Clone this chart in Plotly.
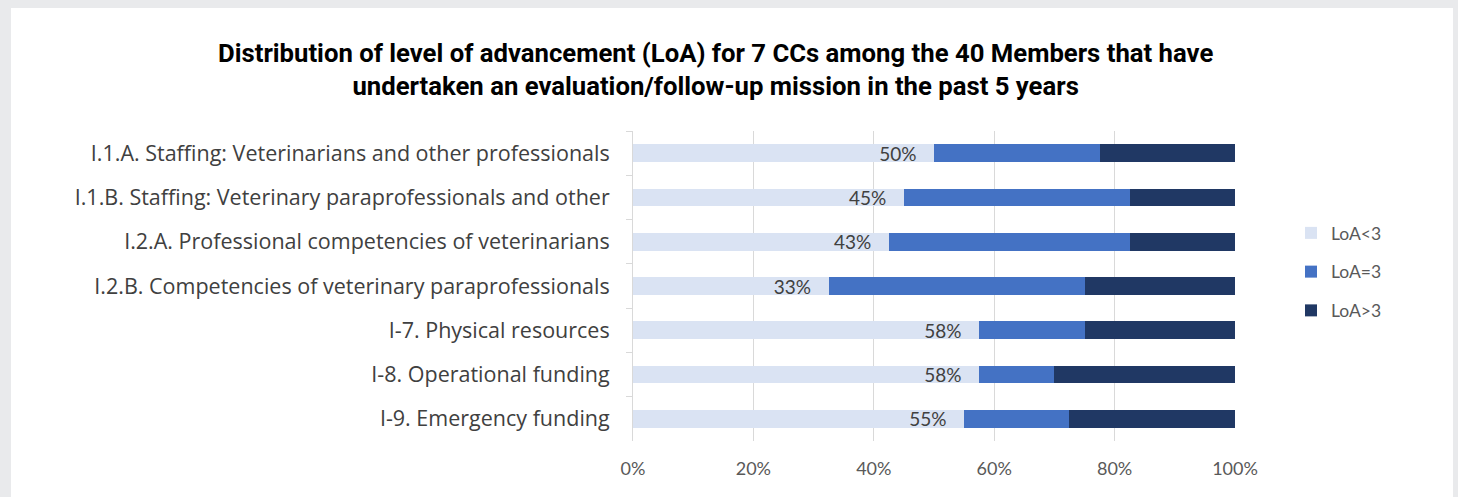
import plotly.graph_objects as go

# Critical competencies (top to bottom)
categories = [
    "I.1.A. Staffing: Veterinarians and other professionals",
    "I.1.B. Staffing: Veterinary paraprofessionals and other",
    "I.2.A. Professional competencies of veterinarians",
    "I.2.B. Competencies of veterinary paraprofessionals",
    "I-7. Physical resources",
    "I-8. Operational funding",
    "I-9. Emergency funding",
]

# Share of the 40 Members (%) in each level-of-advancement band
loa_below_3 = [50.0, 45.0, 42.5, 32.5, 57.5, 57.5, 55.0]
loa_equal_3 = [27.5, 37.5, 40.0, 42.5, 17.5, 12.5, 17.5]
loa_above_3 = [22.5, 17.5, 17.5, 25.0, 25.0, 30.0, 27.5]

series_names = ["LoA<3", "LoA=3", "LoA>3"]
series_colors = ["#dae3f3", "#4472c4", "#203864"]

x_tick_values = [0, 20, 40, 60, 80, 100]
x_tick_labels = ["0%", "20%", "40%", "60%", "80%", "100%"]

title_text = ("<b>Distribution of level of advancement (LoA) for 7 CCs among the 40 Members that have<br>"
              "undertaken an evaluation/follow-up mission in the past 5 years</b>")

W, H = 1458, 497
L, R, T, B = 633, 1458 - 1235, 131, 497 - 441
plot_w, plot_h = W - L - R, H - T - B


def px_x(px):
    return (px - L) / plot_w


def px_y(py):
    return (H - B - py) / plot_h


fig = go.Figure()
for name, vals, color in zip(series_names, [loa_below_3, loa_equal_3, loa_above_3], series_colors):
    show_text = name == "LoA<3"
    fig.add_trace(go.Bar(
        y=categories,
        x=vals,
        name=name,
        orientation="h",
        marker=dict(color=color, line=dict(width=0)),
        legendgroup=name,
        texttemplate="%{x:.0f}%\u00a0\u00a0\u00a0" if show_text else None,
        textposition="inside" if show_text else "none",
        insidetextanchor="end",
        insidetextfont=dict(family="Lato, sans-serif", size=19, color="#404040"),
        constraintext="none",
        textangle=0,
        hoverinfo="skip",
    ))

# White card on the grey page background
fig.add_shape(type="rect", xref="paper", yref="paper",
              x0=px_x(11), x1=px_x(1453), y0=px_y(497), y1=px_y(8),
              fillcolor="white", line=dict(width=0), layer="below")

fig.add_annotation(text=title_text, xref="paper", yref="paper",
                   x=px_x(715), y=px_y(69), xanchor="center", yanchor="middle",
                   showarrow=False, align="center",
                   font=dict(family="Roboto, sans-serif", size=25.7, color="#000000"))

fig.update_layout(
    width=W, height=H,
    margin=dict(l=L, r=R, t=T, b=B, pad=0),
    paper_bgcolor="#e9eaec",
    plot_bgcolor="white",
    barmode="stack",
    bargap=0.6,
    showlegend=True,
    legend=dict(x=px_x(1291), y=px_y(272), xanchor="left", yanchor="middle",
                traceorder="grouped", tracegroupgap=13,
                font=dict(family="Lato, sans-serif", size=17.5, color="#595959"),
                bgcolor="rgba(0,0,0,0)"),
    xaxis=dict(range=[0, 100], tickvals=x_tick_values, ticktext=x_tick_labels,
               showgrid=True, gridcolor="#d9d9d9", gridwidth=1, zeroline=False,
               showline=False, ticks="", ticklabelstandoff=15,
               tickfont=dict(family="Lato, sans-serif", size=18, color="#595959"),
               fixedrange=True),
    yaxis=dict(categoryorder="array", categoryarray=categories, range=[6.5, -0.5],
               showline=True, linecolor="#d9d9d9", linewidth=1,
               ticks="outside", ticklen=6, tickcolor="#d9d9d9", tickson="boundaries",
               ticklabelstandoff=18,
               showgrid=False,
               tickfont=dict(family="Open Sans, sans-serif", size=21.5, color="#404040"),
               fixedrange=True),
)

fig.write_html("out.html")
